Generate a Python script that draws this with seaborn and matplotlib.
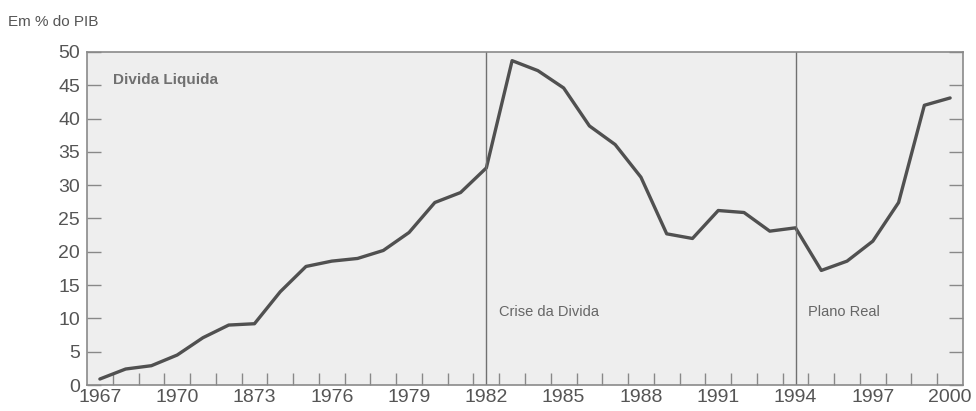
import matplotlib
matplotlib.use("Agg")
import matplotlib.pyplot as plt
import seaborn as sns
import pandas as pd
import numpy as np

years = list(range(1967, 2001))
divida = [0.9, 2.4, 2.9, 4.5, 7.1, 9.0, 9.2, 14.0, 17.8, 18.6,
          19.0, 20.2, 22.9, 27.4, 28.9, 32.6, 48.7, 47.2, 44.6, 38.9,
          36.1, 31.2, 22.7, 22.0, 26.2, 25.9, 23.1, 23.6, 17.2, 18.6,
          21.6, 27.4, 42.0, 43.1]
tick_years = [1967, 1970, 1973, 1976, 1979, 1982, 1985, 1988, 1991, 1994, 1997, 2000]
tick_labels = ["1967", "1970", "1873", "1976", "1979", "1982", "1985", "1988",
               "1991", "1994", "1997", "2000"]
events_x = [1982, 1994]
events_lbl = ["Crise da Divida", "Plano Real"]

df = pd.DataFrame({"ano": years, "divida": divida})

sns.set_theme(style="white")
plt.rcParams["font.family"] = ["Liberation Sans", "DejaVu Sans"]

fig = plt.figure(figsize=(9.76, 4.11), dpi=100)
ax = fig.add_axes([87/976, (411-385)/411, (963-87)/976, (385-52)/411])
ax.set_facecolor("#eeeeee")

sns.lineplot(data=df, x="ano", y="divida", ax=ax, color="#505050", linewidth=2.4)

for xv, lb in zip(events_x, events_lbl):
    ax.axvline(xv, color="#707070", linewidth=1.0)
    ax.text(xv + 0.5, 11.0, lb, fontsize=10.5, color="#666666", va="center", ha="left")

ax.text(1967.5, 45.8, "Divida Liquida", fontsize=11, fontweight="bold",
        color="#707070", va="center", ha="left")

ax.set_xlim(1966.5, 2000.5)
ax.set_ylim(0, 50)
ax.set_xticks(tick_years)
ax.set_xticklabels(tick_labels)
ax.set_xticks(np.arange(1967.5, 2000.5, 1.0), minor=True)
ax.set_yticks(range(0, 51, 5))
ax.tick_params(axis="x", which="major", length=0, labelsize=14, labelcolor="#555555", pad=3)
ax.tick_params(axis="x", which="minor", direction="in", length=9, width=1, color="#888888", bottom=True)
ax.tick_params(axis="y", which="major", direction="in", length=10, width=1, color="#888888",
               left=True, right=True, labelsize=14, labelcolor="#555555", pad=5)
ax.set_xlabel("")
ax.set_ylabel("")
for s in ax.spines.values():
    s.set_color("#8a8a8a")
    s.set_linewidth(1.2)

fig.text(8/976, 1 - 22/411, "Em % do PIB", fontsize=11, color="#555555", va="center", ha="left")

fig.savefig("out.png", dpi=100, facecolor="white")
